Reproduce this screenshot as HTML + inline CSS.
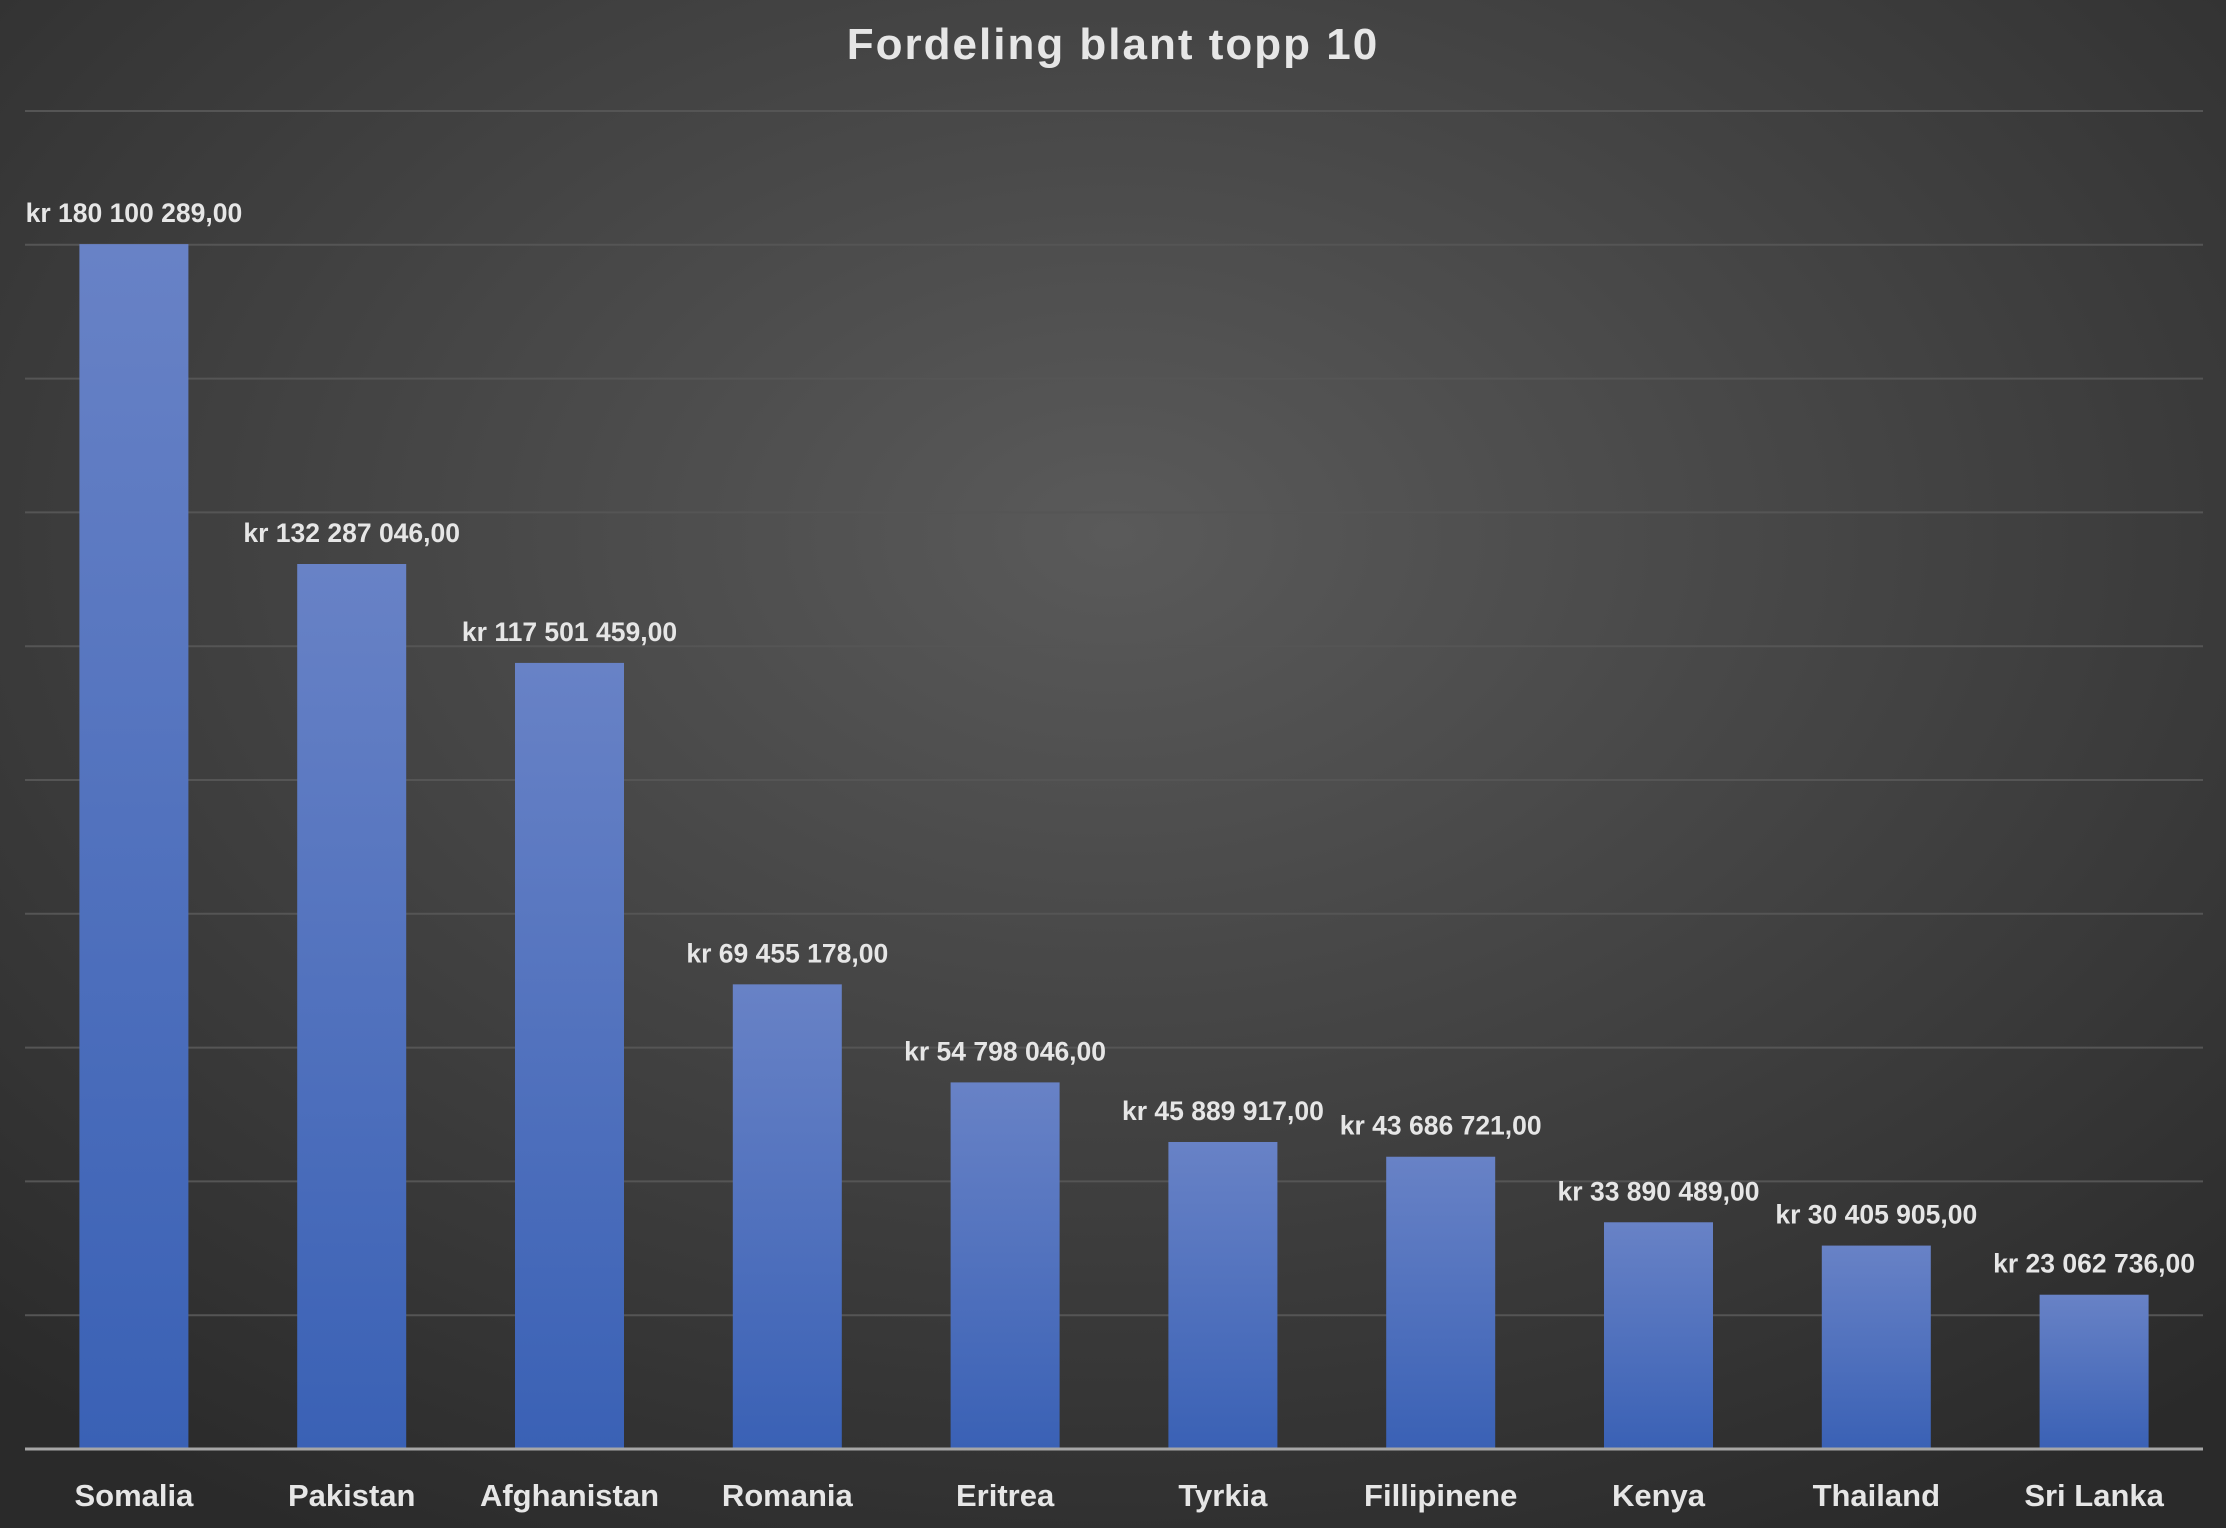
<!DOCTYPE html>
<html><head><meta charset="utf-8"><style>
html,body{margin:0;padding:0;width:2226px;height:1528px;overflow:hidden;background:#333}
svg{display:block}
text{font-family:"Liberation Sans",sans-serif;font-weight:bold;fill:#e6e6e6}
</style></head><body>
<svg id="chart" width="2226" height="1528" viewBox="0 0 2226 1528">
<defs>
<radialGradient id="bg" cx="50%" cy="35%" r="75%">
<stop offset="0" stop-color="#5a5a5a"/><stop offset="1" stop-color="#2a2a2a"/>
</radialGradient>
<linearGradient id="barg" x1="0" y1="0" x2="0" y2="1">
<stop offset="0" stop-color="#6882c6"/><stop offset="1" stop-color="#3a61b5"/>
</linearGradient>
</defs>
<rect width="2226" height="1528" fill="url(#bg)"/>
<text x="1113" y="59" text-anchor="middle" font-size="44" style="letter-spacing:2px">Fordeling blant topp 10</text>
<g id="grid"></g><g id="bars"></g><g id="labels"></g>
</svg>
<script>
const categories=["Somalia","Pakistan","Afghanistan","Romania","Eritrea","Tyrkia","Fillipinene","Kenya","Thailand","Sri Lanka"];
const values=[180100289,132287046,117501459,69455178,54798046,45889917,43686721,33890489,30405905,23062736];
const valueLabels=["kr 180 100 289,00","kr 132 287 046,00","kr 117 501 459,00","kr 69 455 178,00","kr 54 798 046,00","kr 45 889 917,00","kr 43 686 721,00","kr 33 890 489,00","kr 30 405 905,00","kr 23 062 736,00"];
const yMax=200000000, yStep=20000000;
const NS="http://www.w3.org/2000/svg";
const L=25,R=2203,T=111,B=1449;
const y=v=>B-(v/yMax)*(B-T);
const bw=(R-L)/categories.length;
const x=i=>L+bw*(i+0.5);
const grid=document.getElementById('grid'),bars=document.getElementById('bars'),labels=document.getElementById('labels');
for(let v=yStep;v<=yMax;v+=yStep){
 const l=document.createElementNS(NS,'line');
 
 
 l.setAttribute('x1',L);l.setAttribute('x2',R);l.setAttribute('y1',y(v));l.setAttribute('y2',y(v));
 l.setAttribute('stroke','#555');l.setAttribute('stroke-width','2');grid.appendChild(l);
}
categories.forEach((c,i)=>{
 const w=109;
 const r=document.createElementNS(NS,'rect');
 
 
 r.setAttribute('x',x(i)-w/2);r.setAttribute('y',y(values[i]));r.setAttribute('width',w);r.setAttribute('height',B-y(values[i]));
 r.setAttribute('fill','url(#barg)');bars.appendChild(r);
 const t=document.createElementNS(NS,'text');
 
 
 t.setAttribute('x',x(i));t.setAttribute('y',y(values[i])-22);t.setAttribute('text-anchor','middle');t.setAttribute('font-size','26.5');
 t.textContent=valueLabels[i];labels.appendChild(t);
 const ct=document.createElementNS(NS,'text');
 
 
 ct.setAttribute('x',x(i));ct.setAttribute('y',1506);ct.setAttribute('text-anchor','middle');ct.setAttribute('font-size','31');
 ct.textContent=c;labels.appendChild(ct);
});
const ax=document.createElementNS(NS,'line');


ax.setAttribute('x1',L);ax.setAttribute('x2',R);ax.setAttribute('y1',B);ax.setAttribute('y2',B);
ax.setAttribute('stroke','#a6a6a6');ax.setAttribute('stroke-width','3');labels.appendChild(ax);
</script>
</body></html>
